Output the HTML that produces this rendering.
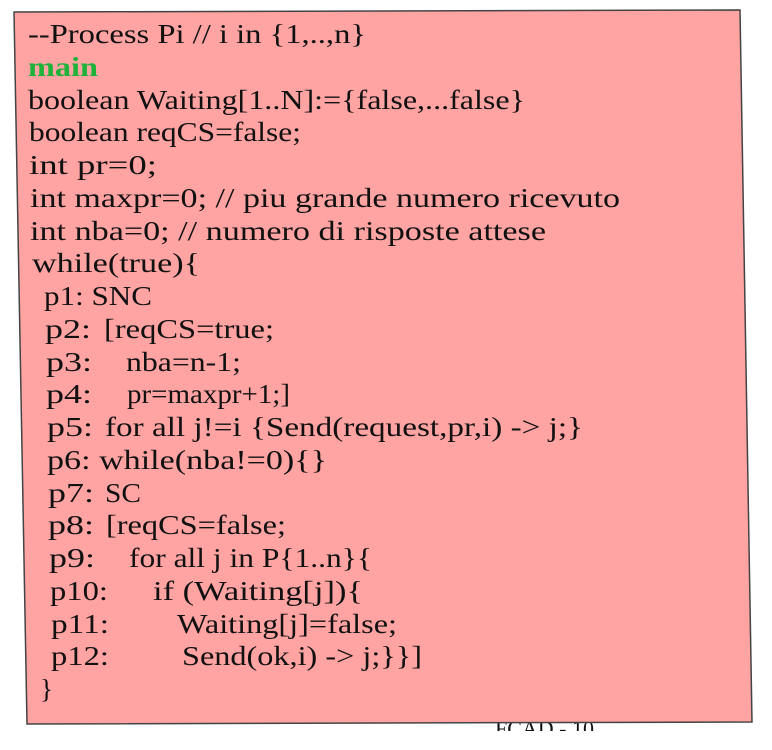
<!DOCTYPE html>
<html><head><meta charset="utf-8"><style>
html,body{margin:0;padding:0;background:#fff;width:772px;height:750px;overflow:hidden}
svg{display:block}
text{font-family:"Liberation Serif",serif;font-size:27px;fill:#111}
</style></head><body>
<svg width="772" height="750" viewBox="0 0 772 750">
<text x="495" y="736" style="font-size:22px" fill="#222">FCAD - 10</text>
<rect x="0" y="731" width="772" height="19" fill="#fff"/>
<polygon points="14,12 740,10 752,722 27,724" fill="#ffa3a3" stroke="#444" stroke-width="1.5"/>
<text x="28" y="43" textLength="338" lengthAdjust="spacingAndGlyphs">--Process Pi  // i in {1,..,n}</text>
<text x="28" y="76" style="font-weight:bold;fill:#1db33a" textLength="70" lengthAdjust="spacingAndGlyphs">main</text>
<text x="28" y="109" textLength="497" lengthAdjust="spacingAndGlyphs">boolean Waiting[1..N]:={false,...false}</text>
<text x="29" y="141" textLength="272" lengthAdjust="spacingAndGlyphs">boolean reqCS=false;</text>
<text x="29" y="174" textLength="128" lengthAdjust="spacingAndGlyphs">int pr=0;</text>
<text x="30" y="207" textLength="590" lengthAdjust="spacingAndGlyphs">int maxpr=0; // piu grande numero ricevuto</text>
<text x="30" y="240" textLength="516" lengthAdjust="spacingAndGlyphs">int nba=0; // numero di risposte attese</text>
<text x="32" y="272" textLength="168" lengthAdjust="spacingAndGlyphs">while(true){</text>
<text x="44" y="305" textLength="108" lengthAdjust="spacingAndGlyphs">p1: SNC</text>
<text x="45" y="338" textLength="46" lengthAdjust="spacingAndGlyphs">p2:</text><text x="104" y="338" textLength="170" lengthAdjust="spacingAndGlyphs">[reqCS=true;</text>
<text x="46" y="371" textLength="46" lengthAdjust="spacingAndGlyphs">p3:</text><text x="126" y="371" textLength="115" lengthAdjust="spacingAndGlyphs">nba=n-1;</text>
<text x="46" y="403" textLength="46" lengthAdjust="spacingAndGlyphs">p4:</text><text x="127" y="403" textLength="163" lengthAdjust="spacingAndGlyphs">pr=maxpr+1;]</text>
<text x="47" y="436" textLength="46" lengthAdjust="spacingAndGlyphs">p5:</text><text x="105" y="436" textLength="478" lengthAdjust="spacingAndGlyphs">for all j!=i  {Send(request,pr,i) -&gt; j;}</text>
<text x="47" y="469" textLength="280" lengthAdjust="spacingAndGlyphs">p6: while(nba!=0){}</text>
<text x="48" y="502" textLength="46" lengthAdjust="spacingAndGlyphs">p7:</text><text x="105" y="502" textLength="36" lengthAdjust="spacingAndGlyphs">SC</text>
<text x="48" y="534" textLength="46" lengthAdjust="spacingAndGlyphs">p8:</text><text x="106" y="534" textLength="180" lengthAdjust="spacingAndGlyphs">[reqCS=false;</text>
<text x="49" y="567" textLength="46" lengthAdjust="spacingAndGlyphs">p9:</text><text x="129" y="567" textLength="243" lengthAdjust="spacingAndGlyphs">for all j in P{1..n}{</text>
<text x="50" y="600" textLength="58" lengthAdjust="spacingAndGlyphs">p10:</text><text x="153" y="600" textLength="210" lengthAdjust="spacingAndGlyphs">if (Waiting[j]){</text>
<text x="51" y="633" textLength="58" lengthAdjust="spacingAndGlyphs">p11:</text><text x="177" y="633" textLength="220" lengthAdjust="spacingAndGlyphs">Waiting[j]=false;</text>
<text x="51" y="665" textLength="58" lengthAdjust="spacingAndGlyphs">p12:</text><text x="182" y="665" textLength="240" lengthAdjust="spacingAndGlyphs">Send(ok,i) -&gt; j;}}]</text>
<text x="40" y="698">}</text>
</svg>
</body></html>
